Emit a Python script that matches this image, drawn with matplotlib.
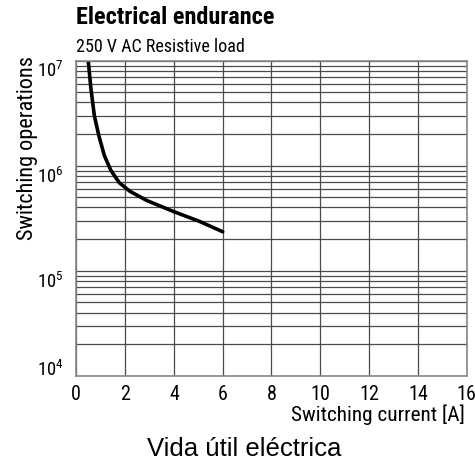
import numpy as np
import matplotlib
matplotlib.use("Agg")
import matplotlib.pyplot as plt
from matplotlib.ticker import LogLocator, FixedLocator

# curve
current = [0.49, 0.60, 0.74, 0.92, 1.15, 1.42, 1.76, 2.2, 2.9, 4.0, 5.05, 6.0]
operations = [1.0e7, 5.4e6, 3.0e6, 1.95e6, 1.25e6, 9.0e5, 6.9e5, 5.7e5, 4.65e5, 3.65e5, 2.95e5, 2.35e5]

x_ticks = [0, 2, 4, 6, 8, 10, 12, 14, 16]
y_ticks = [1e4, 1e5, 1e6, 1e7]

plt.rcParams['font.family'] = ['Roboto Condensed', 'DejaVu Sans']
plt.rcParams['mathtext.fontset'] = 'custom'
plt.rcParams['mathtext.rm'] = 'Roboto Condensed'

fig = plt.figure(figsize=(4.75, 4.63), dpi=100)
ax = fig.add_axes([0.1606, 0.1885, 0.8219, 0.6804])

ax.set_yscale('log')
ax.set_xlim(0, 16)
ax.set_ylim(1e4, 1e7)

ax.xaxis.set_major_locator(FixedLocator(x_ticks))
ax.yaxis.set_major_locator(FixedLocator(y_ticks))
ax.yaxis.set_minor_locator(LogLocator(base=10, subs=np.arange(2, 10)))
ax.set_yticklabels(['10$^{%d}$' % int(np.log10(v)) for v in y_ticks])
ax.yaxis.set_minor_formatter(plt.NullFormatter())
# labels hang below their line, the lowest one sits on it
for lab, v in zip(ax.get_yticklabels(), y_ticks):
    lab.set_va('baseline' if v == y_ticks[0] else 'top')

ax.grid(True, which='both', axis='y', color='#4a4a4a', lw=0.9)
ax.grid(True, which='major', axis='x', color='#4a4a4a', lw=0.9)
ax.tick_params(axis='x', which='both', length=0, labelsize=14.5, pad=7)
ax.tick_params(axis='y', which='both', length=0, labelsize=13.5, pad=9)
for s in ax.spines.values():
    s.set_color('#888888')
    s.set_linewidth(1.2)

ax.plot(current, operations, color='black', lw=2.6, solid_capstyle='round',
        solid_joinstyle='round')

fig.text(33 / 475, 1 - 240 / 463, 'Switching operations', fontsize=16, rotation=90,
         rotation_mode='anchor', ha='left', va='baseline')
fig.text(291 / 475, 1 - 421 / 463, 'Switching current [A]', fontsize=15.3,
         ha='left', va='baseline')

fig.text(0.1606, 1 - 24 / 463, 'Electrical endurance', fontsize=17.5, fontweight='bold',
         ha='left', va='baseline')
fig.text(0.1606, 1 - 52 / 463, '250 V AC Resistive load', fontsize=13, ha='left',
         va='baseline')
fig.text(0.515, 1 - 456 / 463, 'Vida útil eléctrica', fontsize=18.5,
         family='Liberation Sans', ha='center', va='baseline')

fig.savefig('out.png', dpi=100)
